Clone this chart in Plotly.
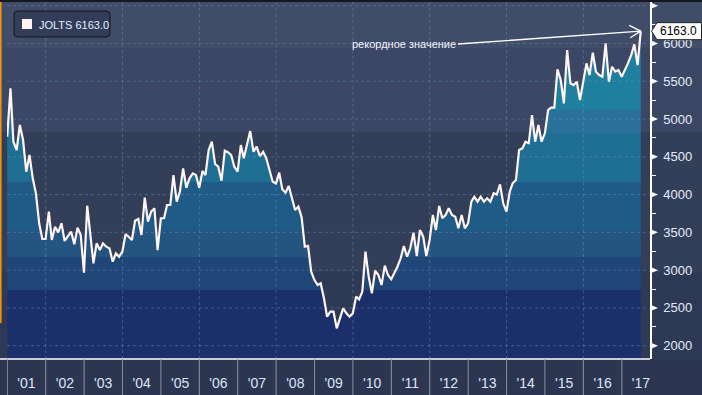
import plotly.graph_objects as go
import pandas as pd

# ---------------- data (JOLTS job openings, thousands, monthly Dec-2000 .. Jun-2017) -------------
values_2000 = [4766]
values_2001 = [5406, 4700, 4590, 4921, 4722, 4303, 4524, 4215, 4017, 3620, 3412, 3412]
values_2002 = [3775, 3399, 3575, 3500, 3620, 3386, 3443, 3509, 3342, 3561, 3465, 2966]
values_2003 = [3853, 3443, 3090, 3355, 3266, 3355, 3310, 3288, 3112, 3222, 3178, 3244]
values_2004 = [3478, 3443, 3399, 3654, 3677, 3465, 3959, 3641, 3775, 3818, 3266, 3686]
values_2005 = [3690, 3862, 3862, 4259, 3906, 4038, 4347, 4091, 4215, 4281, 4259, 4091]
values_2006 = [4312, 4259, 4590, 4700, 4405, 4369, 4184, 4581, 4560, 4524, 4369, 4303]
values_2007 = [4656, 4480, 4679, 4841, 4567, 4634, 4510, 4567, 4480, 4303, 4170, 4149]
values_2008 = [4290, 4070, 4025, 4113, 3951, 3796, 3840, 3699, 3310, 3320, 2979, 2869]
values_2009 = [2803, 2826, 2627, 2384, 2450, 2450, 2230, 2360, 2495, 2429, 2384, 2429]
values_2010 = [2649, 2614, 2715, 3244, 2913, 2693, 2993, 2936, 2803, 3059, 2936, 2879]
values_2011 = [2958, 3045, 3157, 3319, 3178, 3289, 3496, 3187, 3531, 3443, 3187, 3399]
values_2012 = [3730, 3531, 3849, 3686, 3730, 3818, 3730, 3708, 3554, 3730, 3554, 3620]
values_2013 = [3906, 3972, 3906, 3972, 3906, 3951, 3906, 4017, 4000, 4136, 3885, 3774]
values_2014 = [4038, 4149, 4193, 4590, 4612, 4700, 4680, 5053, 4700, 4921, 4700, 4811]
values_2015 = [5119, 5150, 5150, 5658, 5516, 5208, 5913, 5472, 5450, 5494, 5252, 5472]
values_2016 = [5737, 5582, 5878, 5627, 5582, 5560, 6002, 5494, 5692, 5627, 5648, 5560]
values_2017 = [5648, 5737, 5847, 5989, 5714, 6163]

series_name = "JOLTS"
start_month = "2000-12-31"
year_ticks = list(range(2001, 2018))
year_labels = ["'01", "'02", "'03", "'04", "'05", "'06", "'07", "'08", "'09",
               "'10", "'11", "'12", "'13", "'14", "'15", "'16", "'17"]
grid_years = list(range(2002, 2017, 2))
y_ticks = [2000, 2500, 3000, 3500, 4000, 4500, 5000, 5500, 6000, 6500]
annotation_text = "рекордное значение"

values = (values_2000 + values_2001 + values_2002 + values_2003 + values_2004 + values_2005 +
          values_2006 + values_2007 + values_2008 + values_2009 + values_2010 + values_2011 +
          values_2012 + values_2013 + values_2014 + values_2015 + values_2016 + values_2017)
dates = [(pd.Timestamp(start_month) + pd.offsets.MonthEnd(k)) for k in range(len(values))]
last_date, last_val = dates[-1], values[-1]

# ---------------- geometry ----------------
W, H = 702, 395
ML, MR, MT, MB = 7, 52, 2, 36
PW, PH = W - ML - MR, H - MT - MB
X0, X1 = pd.Timestamp("2000-12-29"), pd.Timestamp("2017-09-26")
Y0, Y1 = 1824, 6549
days_per_px = (X1 - X0).days / PW


def pxx(px):
    return (px - ML) / PW


def pxy(py):
    return (H - MB - py) / PH


def val_to_py(v):
    return MT + (Y1 - v) / (Y1 - Y0) * PH


# fill colour bands (value boundaries, bottom -> top)
band_edges = [Y0, 2737, 3174, 3531, 4166, 4815, 5119, Y1]
band_colors = ["#1b2f6a", "#1f4677", "#245581", "#1f5b87", "#1f6e93", "#29719a", "#1f7f9f"]
cs = []
for i, c in enumerate(band_colors):
    cs.append([(band_edges[i] - Y0) / (Y1 - Y0), c])
    cs.append([(band_edges[i + 1] - Y0) / (Y1 - Y0), c])
cs[0][0] = 0.0
cs[-1][0] = 1.0

bg_edges = [Y0, 2975, 4828, 5937, Y1]
bg_colors = ["#2e3955", "#333e59", "#3b4764", "#414c68"]

fig = go.Figure()

fig.add_trace(go.Scatter(
    x=dates, y=values, mode="none", fill="tozeroy",
    fillgradient=dict(type="vertical", start=Y0, stop=Y1, colorscale=cs),
    hoverinfo="skip", showlegend=False))

# dashed grid drawn above the fill but below the line
gx, gy = [], []
for v in y_ticks:
    gx += [X0, X1, None]
    gy += [v, v, None]
for yr in grid_years:
    d = pd.Timestamp(f"{yr}-01-01")
    gx += [d, d, None]
    gy += [Y0, Y1, None]
fig.add_trace(go.Scatter(x=gx, y=gy, mode="lines",
                         line=dict(color="rgba(105,150,190,0.45)", width=1, dash="3px,3px"),
                         hoverinfo="skip", showlegend=False))

fig.add_trace(go.Scatter(
    x=dates, y=values, mode="lines", line=dict(color="#fff4f0", width=2.2),
    hoverinfo="skip", showlegend=False))

shapes = []
for i, c in enumerate(bg_colors):
    shapes.append(dict(type="rect", xref="paper", yref="y", x0=pxx(0), x1=pxx(W),
                       y0=bg_edges[i], y1=bg_edges[i + 1], fillcolor=c, line_width=0, layer="below"))
# top dark bar
shapes.append(dict(type="rect", xref="paper", yref="paper", x0=pxx(0), x1=pxx(W),
                   y0=pxy(2), y1=pxy(0), fillcolor="#15191f", line_width=0, layer="above"))
# left orange marker line
shapes.append(dict(type="rect", xref="paper", yref="paper", x0=pxx(0), x1=pxx(1.6),
                   y0=pxy(323), y1=pxy(2), fillcolor="#f0930f", line_width=0, layer="above"))
# x axis line
shapes.append(dict(type="line", xref="paper", yref="paper", x0=pxx(0), x1=1, y0=0, y1=0,
                   line=dict(color="white", width=1.5), layer="above"))
# year separators below the axis
for yr in year_ticks:
    d = pd.Timestamp(f"{yr}-01-01")
    shapes.append(dict(type="line", xref="x", yref="paper", x0=d, x1=d, y0=0, y1=pxy(H),
                       line=dict(color="#8d93a5", width=1), layer="above"))
# white triangles at the right-axis labels
for v in y_ticks:
    cy = val_to_py(v)
    shapes.append(dict(type="path", xref="paper", yref="paper",
                       path=f"M {pxx(650.5)},{pxy(cy - 3.2)} L {pxx(658)},{pxy(cy)} L {pxx(650.5)},{pxy(cy + 3.2)} Z",
                       fillcolor="white", line_width=0, layer="above"))
# last-value tag with pointer
ty = val_to_py(last_val)
shapes.append(dict(type="path", xref="paper", yref="paper",
                   path=(f"M {pxx(651.5)},{pxy(ty)} L {pxx(657)},{pxy(ty - 8.5)} L {pxx(701.5)},{pxy(ty - 8.5)} "
                         f"L {pxx(701.5)},{pxy(ty + 8.5)} L {pxx(657)},{pxy(ty + 8.5)} Z"),
                   fillcolor="white", line=dict(color="#222", width=1), layer="above"))


def rounded(x0, y0, x1, y1, r):
    pts = (f"M {pxx(x0 + r)},{pxy(y0)} L {pxx(x1 - r)},{pxy(y0)} "
           f"Q {pxx(x1)},{pxy(y0)} {pxx(x1)},{pxy(y0 + r)} L {pxx(x1)},{pxy(y1 - r)} "
           f"Q {pxx(x1)},{pxy(y1)} {pxx(x1 - r)},{pxy(y1)} L {pxx(x0 + r)},{pxy(y1)} "
           f"Q {pxx(x0)},{pxy(y1)} {pxx(x0)},{pxy(y1 - r)} L {pxx(x0)},{pxy(y0 + r)} "
           f"Q {pxx(x0)},{pxy(y0)} {pxx(x0 + r)},{pxy(y0)} Z")
    return pts


# legend box
shapes.append(dict(type="path", xref="paper", yref="paper", path=rounded(14, 11, 110, 37, 4),
                   fillcolor="#323d5a", line=dict(color="#10141c", width=1), layer="above"))
shapes.append(dict(type="rect", xref="paper", yref="paper", x0=pxx(22), x1=pxx(32),
                   y0=pxy(29), y1=pxy(19), fillcolor="#fff4ee", line_width=0, layer="above"))

annotations = [
    dict(xref="paper", yref="paper", x=pxx(37), y=pxy(24.5), xanchor="left", yanchor="middle",
         text=f"{series_name} {last_val:.1f}", showarrow=False,
         font=dict(family="Liberation Sans", size=11, color="#e6eefb")),
    dict(x=last_date, y=last_val, xref="x", yref="y",
         ax=X0 + pd.Timedelta(days=(458 - ML) * days_per_px), ay=5993, axref="x", ayref="y",
         text=annotation_text, xanchor="right", yanchor="middle", showarrow=True,
         arrowhead=0, arrowwidth=1.3, arrowcolor="white", standoff=0,
         font=dict(family="Liberation Sans", size=11, color="#f2f5ff")),
    dict(x=last_date, y=last_val, xref="x", yref="y", ax=-13, ay=-6.5, text="",
         showarrow=True, arrowhead=0, arrowwidth=1.3, arrowcolor="white"),
    dict(x=last_date, y=last_val, xref="x", yref="y", ax=-12, ay=7.5, text="",
         showarrow=True, arrowhead=0, arrowwidth=1.3, arrowcolor="white"),
    dict(xref="paper", yref="y", x=1, y=last_val, xanchor="left", yanchor="middle", xshift=8,
         text=f"{last_val:.1f}", showarrow=False,
         font=dict(family="Liberation Sans", size=12, color="black")),
]

mid_year = [pd.Timestamp(f"{yr}-07-02") for yr in year_ticks]

fig.update_layout(
    width=W, height=H, margin=dict(l=ML, r=MR, t=MT, b=MB),
    paper_bgcolor="#2c3651", plot_bgcolor="#2e3955",
    shapes=shapes, annotations=annotations, showlegend=False,
    xaxis=dict(range=[X0, X1], type="date", showgrid=False, zeroline=False, showline=False,
               tickvals=mid_year, ticktext=year_labels, ticks="",
               tickfont=dict(family="Liberation Sans", size=14, color="#dbe5f7"),
               ticklabelstandoff=14),
    yaxis=dict(range=[Y0, Y1], side="right", showgrid=False, zeroline=False,
               showline=True, linecolor="white", linewidth=1.5,
               tickvals=y_ticks, ticktext=[str(v) for v in y_ticks], ticks="",
               tickfont=dict(family="Liberation Sans", size=13, color="#e3ecfb"),
               ticklabelstandoff=9,
               minor=dict(ticks="outside", ticklen=4, tickcolor="white", tickwidth=1,
                          dtick=250, tick0=2000, showgrid=False)),
)

fig.write_html("out.html", config={"displayModeBar": False},
               post_script="document.body.style.margin='0';document.body.style.overflow='hidden';")
